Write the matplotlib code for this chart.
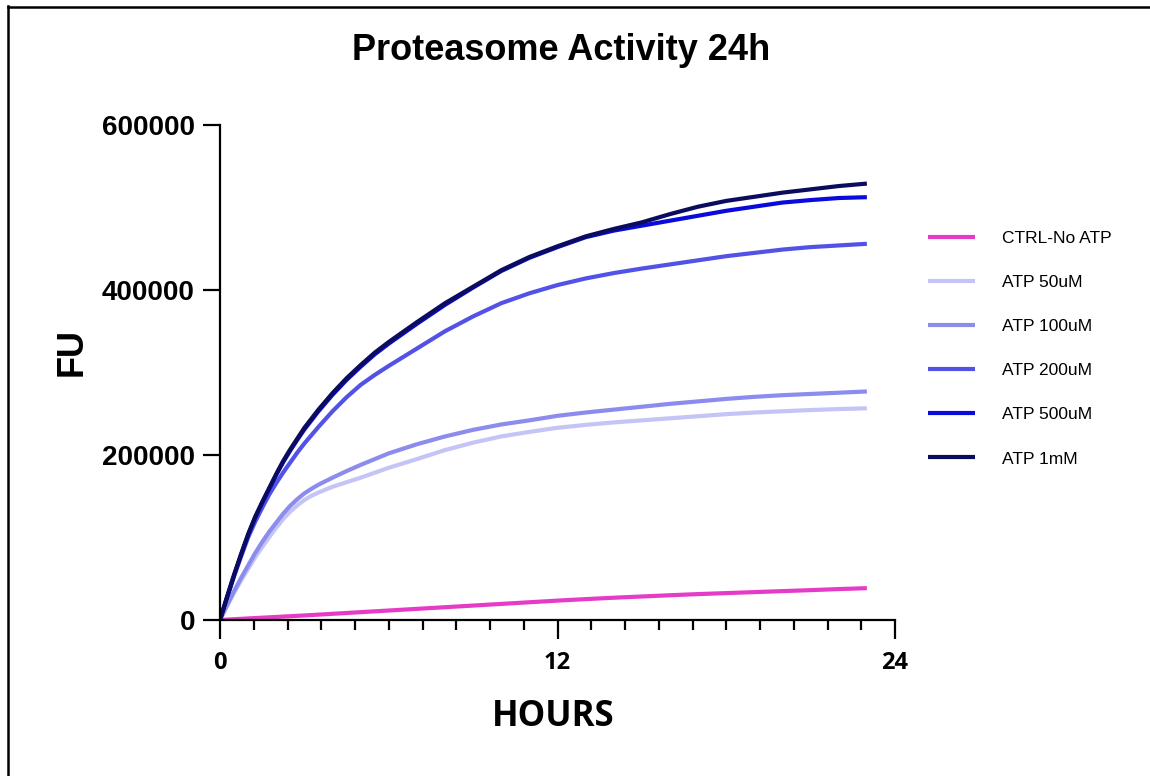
import matplotlib
matplotlib.use("Agg")
import matplotlib.pyplot as plt
from matplotlib.ticker import MultipleLocator
from matplotlib.lines import Line2D

# time points (hours)
hours = [0, 0.25, 0.5, 0.75, 1, 1.25, 1.5, 1.75, 2, 2.25, 2.5, 2.75, 3, 3.25, 3.5, 4, 4.5,
         5, 5.5, 6, 7, 8, 9, 10, 11, 12, 13, 14, 15, 16, 17, 18, 19, 20, 21, 22, 23]

ctrl = [0, 480, 950, 1430, 1900, 2350, 2800, 3250, 3700, 4150, 4600, 5050, 5500, 6000,
        6500, 7500, 8500, 9500, 10500, 11500, 13500, 15500, 17500, 19500, 21500, 23500,
        25300, 27000, 28500, 30000, 31400, 32600, 33800, 35000, 36200, 37500, 38600]
atp50 = [0, 17000, 33000, 48000, 62000, 76000, 88500, 100500, 112000, 122500, 131500,
         139000, 145500, 150500, 154500, 161500, 167000, 172500, 178500, 184500, 195000,
         206000, 215000, 222500, 228000, 233000, 236500, 239500, 242000, 244500,
         247000, 249500, 251500, 253000, 254500, 255700, 256600]
atp100 = [0, 18000, 35000, 51000, 66000, 81000, 94500, 107000, 118000, 129000, 138500,
          146500, 153500, 159000, 164000, 172500, 180500, 188000, 195000, 202000, 213000,
          222500, 230500, 237000, 242000, 247500, 251500, 255000, 258500, 262000,
          265000, 268000, 270500, 272500, 274000, 275500, 277000]
atp200 = [0, 27000, 53000, 77000, 100000, 119000, 136000, 152000, 166000, 179000, 191000,
          203000, 214000, 224000, 234000, 253000, 270000, 285000, 297000, 308000, 329000,
          350000, 368000, 384000, 396000, 406000, 414000, 420500, 426000, 431000,
          436000, 441000, 445000, 449000, 452000, 454000, 456000]
atp500 = [0, 27500, 54000, 79000, 103000, 124000, 142000, 159000, 176000, 191500, 205500,
          218500, 231000, 242000, 253000, 273000, 291000, 307000, 322000, 335000, 359000,
          382000, 403000, 423000, 439000, 452000, 464000, 472000, 478000, 484000,
          490000, 496000, 501000, 506000, 509000, 511500, 512500]
atp1mM = [0, 28000, 55000, 80000, 104000, 125000, 143000, 160000, 177000, 193000, 207000,
          220000, 233000, 244000, 255000, 275000, 293000, 309000, 324000, 337000, 361000,
          384000, 404000, 424000, 440000, 453000, 465000, 474000, 482000, 492000,
          501000, 508000, 513000, 518000, 522000, 526000, 529000]

labels = ["CTRL-No ATP", "ATP 50uM", "ATP 100uM", "ATP 200uM", "ATP 500uM", "ATP 1mM"]
colors = ["#E53CC8", "#C4C4F6", "#8C8CEE", "#5252E6", "#0A0ADC", "#0C0C5E"]
series = [ctrl, atp50, atp100, atp200, atp500, atp1mM]

arial = "Liberation Sans"
calibri = "Open Sans"

fig = plt.figure(figsize=(11.5, 7.76), dpi=100)
ax = fig.add_axes([220/1150, 1-620/776, (895-220)/1150, (620-125)/776])

for y, c, lab in zip(series, colors, labels):
    ax.plot(hours, y, color=c, lw=3, label=lab, solid_capstyle="butt")

ax.set_xlim(0, 24)
ax.set_ylim(0, 600000)
ax.set_xticks([0, 12, 24])
ax.xaxis.set_minor_locator(MultipleLocator(1.2))
ax.set_yticks([0, 200000, 400000, 600000])
ax.set_yticklabels(["0", "200000", "400000", "600000"])
for s in ["top", "right"]:
    ax.spines[s].set_visible(False)
for s in ["left", "bottom"]:
    ax.spines[s].set_linewidth(1.6)
ax.tick_params(axis="y", which="major", length=12, width=1.6, pad=6)
ax.tick_params(axis="x", which="major", length=14, width=1.6, pad=8)
ax.tick_params(axis="x", which="minor", length=7, width=1.6)
for t in ax.get_yticklabels():
    t.set_fontfamily(arial)
    t.set_fontweight("bold")
    t.set_fontsize(20)
for t in ax.get_xticklabels():
    t.set_fontfamily(calibri)
    t.set_fontweight("bold")
    t.set_fontsize(17)

fig.text(561/1150, 1-50/776, "Proteasome Activity 24h", ha="center", va="center",
         fontsize=26, fontweight="bold", family=arial)
fig.text(72/1150, 1-352/776, "FU", ha="center", va="center", rotation=90,
         fontsize=26, fontweight="bold", family=arial)
fig.text(553/1150, 1-717/776, "HOURS", ha="center", va="center",
         fontsize=25, fontweight="bold", family=calibri)

fig.legend(loc="upper left", bbox_to_anchor=(919/1150, 1-222/776),
           bbox_transform=fig.transFigure, frameon=False, borderpad=0,
           handlelength=2.75, handletextpad=1.55, labelspacing=1.67,
           prop={"family": arial, "size": 12.5})

# frame lines of the original screenshot
fig.add_artist(Line2D([8/1150, 8/1150], [0, 1-6/776], color="black", lw=1.8,
                      transform=fig.transFigure))
fig.add_artist(Line2D([8/1150, 1], [1-7/776, 1-7/776], color="black", lw=1.8,
                      transform=fig.transFigure))

fig.savefig("out.png", dpi=100)
